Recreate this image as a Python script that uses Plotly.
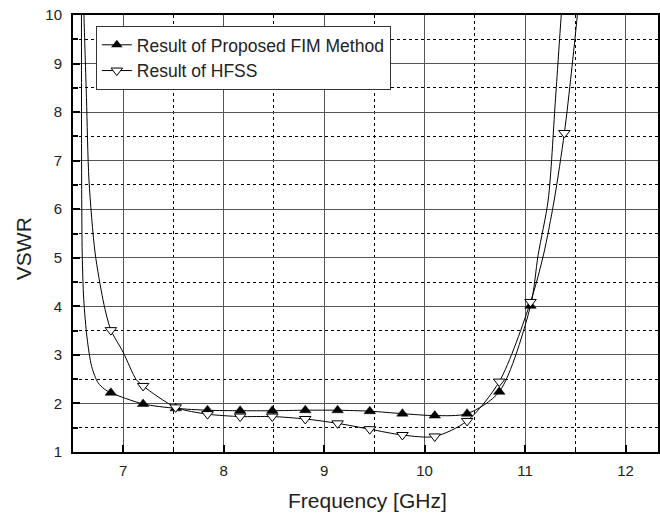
import plotly.graph_objects as go

# Marker frequencies (GHz)
freq_markers = [6.877, 7.198, 7.522, 7.839, 8.164, 8.484, 8.812, 9.134, 9.454,
                9.779, 10.101, 10.423, 10.743, 11.054]
fim_markers = [2.22, 1.99, 1.90, 1.86, 1.85, 1.85, 1.86, 1.86, 1.84,
               1.79, 1.75, 1.79, 2.24, 4.01]
hfss_freq_markers = freq_markers + [11.391]
hfss_markers = [3.51, 2.36, 1.92, 1.78, 1.73, 1.73, 1.68, 1.59, 1.47,
                1.35, 1.32, 1.64, 2.45, 4.09, 7.57]

# Smooth curves (incl. tails beyond the markers)
fim_curve_x = [6.583, 6.584, 6.586, 6.592, 6.607, 6.64, 6.686, 6.748, 6.81,
               6.877, 7.198, 7.522, 7.839, 8.164, 8.484, 8.812, 9.134, 9.454,
               9.779, 10.101, 10.423, 10.743, 11.054, 11.13, 11.23, 11.30, 11.36, 11.39]
fim_curve_y = [10.8, 10.0, 6.6, 5.06, 4.14, 3.35, 2.76, 2.43, 2.30,
               2.22, 1.99, 1.90, 1.86, 1.85, 1.85, 1.86, 1.86, 1.84,
               1.79, 1.75, 1.79, 2.24, 4.01, 5.06, 6.19, 8.19, 10.0, 10.8]

hfss_curve_x = [6.60, 6.609, 6.634, 6.659, 6.72, 6.798, 6.84, 6.877, 7.0, 7.13,
                7.198, 7.522, 7.839, 8.164, 8.484, 8.812, 9.134, 9.454,
                9.779, 10.101, 10.423, 10.743, 11.054, 11.183, 11.29, 11.391,
                11.46, 11.52, 11.54]
hfss_curve_y = [10.8, 10.0, 8.3, 6.6, 5.1, 4.14, 3.76, 3.51, 3.05, 2.49,
                2.36, 1.92, 1.78, 1.73, 1.73, 1.68, 1.59, 1.47,
                1.35, 1.32, 1.64, 2.45, 4.09, 5.06, 6.19, 7.57,
                8.8, 10.0, 10.5]

labels = ["Result of Proposed FIM Method", "Result of HFSS"]
FONT = "Liberation Sans, Arial, sans-serif"

fig = go.Figure()

fig.add_trace(go.Scatter(x=fim_curve_x, y=fim_curve_y, mode="lines",
                         line=dict(color="black", width=1, shape="spline", smoothing=0.8),
                         showlegend=False, hoverinfo="skip"))
fig.add_trace(go.Scatter(x=hfss_curve_x, y=hfss_curve_y, mode="lines",
                         line=dict(color="black", width=1, shape="spline", smoothing=0.8),
                         showlegend=False, hoverinfo="skip"))
fig.add_trace(go.Scatter(x=freq_markers, y=fim_markers, mode="markers",
                         marker=dict(symbol="triangle-up", size=10, color="black",
                                     line=dict(color="black", width=0.5)),
                         showlegend=False))
fig.add_trace(go.Scatter(x=hfss_freq_markers, y=hfss_markers, mode="markers",
                         marker=dict(symbol="triangle-down", size=10, color="white",
                                     line=dict(color="black", width=1)),
                         showlegend=False))
# legend entries
fig.add_trace(go.Scatter(x=[None], y=[None], mode="lines+markers", name=labels[0],
                         line=dict(color="black", width=1),
                         marker=dict(symbol="triangle-up", size=10, color="black")))
fig.add_trace(go.Scatter(x=[None], y=[None], mode="lines+markers", name=labels[1],
                         line=dict(color="black", width=1),
                         marker=dict(symbol="triangle-down", size=10, color="white",
                                     line=dict(color="black", width=1))))

axis_common = dict(
    showline=True, linecolor="black", linewidth=2, mirror=True,
    ticks="inside", ticklen=7, tickwidth=2, tickcolor="black",
    showgrid=True, gridcolor="#555555", gridwidth=1.3,
    zeroline=False,
    tickfont=dict(family=FONT, size=15, color="#222222"),
)

fig.update_xaxes(range=[6.5, 12.323], tickvals=[7, 8, 9, 10, 11, 12],
                 ticklabelstandoff=4,
                 minor=dict(dtick=0.5, tick0=6.5, ticks="inside", ticklen=4, tickwidth=1,
                            tickcolor="black", showgrid=True, gridcolor="black",
                            griddash="dot", gridwidth=1),
                 **axis_common)
fig.update_yaxes(range=[1, 10], tickvals=[1, 2, 3, 4, 5, 6, 7, 8, 9, 10],
                 ticklabelstandoff=6,
                 minor=dict(dtick=0.5, tick0=1, ticks="inside", ticklen=5, tickwidth=1.5,
                            tickcolor="black", showgrid=True, gridcolor="black",
                            griddash="dot", gridwidth=1),
                 **axis_common)

fig.update_layout(
    width=660, height=515,
    margin=dict(l=73, r=0, t=15, b=63),
    plot_bgcolor="white", paper_bgcolor="white",
    font=dict(family=FONT, color="#222222"),
    legend=dict(x=0.039, y=0.975, xanchor="left", yanchor="top",
                bgcolor="white", bordercolor="#333333", borderwidth=1,
                font=dict(family=FONT, size=17.5, color="#222222"),
                tracegroupgap=0),
    annotations=[
        dict(text="Frequency [GHz]", xref="paper", yref="paper", x=0.504, y=-0.112,
             xanchor="center", yanchor="middle", showarrow=False,
             font=dict(family=FONT, size=21, color="#222222")),
        dict(text="VSWR", xref="paper", yref="paper", x=-0.0852, y=0.4645,
             xanchor="center", yanchor="middle", showarrow=False, textangle=-90,
             font=dict(family=FONT, size=21, color="#222222")),
    ],
)

fig.write_html("out.html")
